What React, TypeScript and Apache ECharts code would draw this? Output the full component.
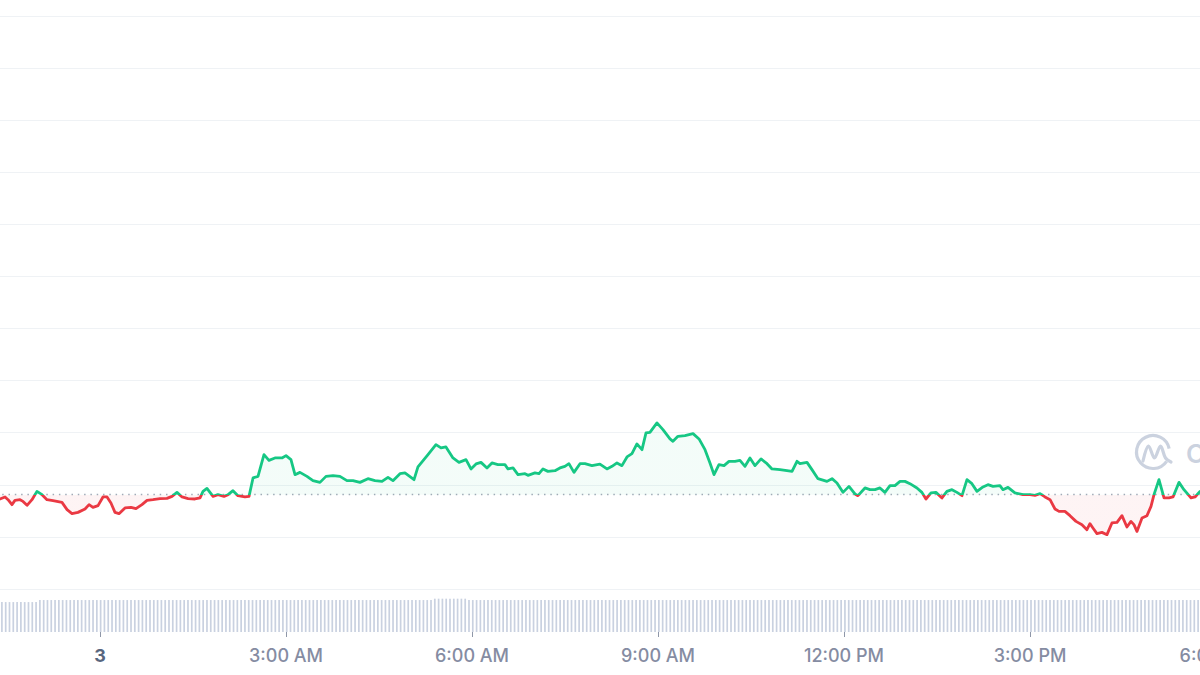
import React, { useEffect, useRef } from "react";
import * as echarts from "echarts";

// Reference (opening) price shown as the dotted baseline
const baselinePrice = 11.811;

// Minutes relative to midnight of day 3
const times = [
  -96.8, -91.9, -89.0, -85.2, -82.3, -77.4, -74.5, -70.6, -65.8, -61.0,
  -56.1, -51.3, -45.5, -36.8, -31.9, -27.1, -21.3, -14.5, -10.6, -6.8,
  -1.9, 2.9, 6.8, 10.6, 14.5, 18.4, 24.2, 30.0, 34.8, 40.6,
  45.5, 51.3, 58.1, 64.8, 69.7, 74.5, 79.4, 85.2, 91.9, 96.8,
  99.7, 103.5, 109.4, 114.2, 120.0, 123.9, 128.7, 133.5, 140.3, 144.2,
  148.1, 152.9, 158.7, 163.5, 169.3, 176.1, 180.0, 184.8, 188.7, 193.5,
  200.3, 206.1, 212.9, 218.7, 225.5, 232.2, 239.0, 244.8, 251.6, 259.3,
  266.1, 272.9, 278.7, 283.5, 290.3, 295.1, 303.9, 307.7, 317.4, 325.1,
  330.0, 334.8, 341.6, 347.4, 354.2, 359.0, 363.9, 368.7, 374.5, 379.3,
  385.1, 391.9, 394.8, 399.7, 404.5, 411.3, 414.2, 420.9, 424.8, 428.7,
  433.5, 440.3, 445.1, 449.9, 453.8, 458.7, 464.5, 469.3, 476.1, 483.8,
  490.6, 495.5, 500.3, 505.1, 510.0, 514.8, 519.6, 524.5, 528.4, 532.2,
  539.0, 544.8, 551.6, 554.5, 559.3, 566.1, 573.9, 579.7, 585.5, 590.3,
  594.2, 599.0, 603.9, 608.7, 614.5, 619.3, 624.2, 629.0, 633.9, 639.7,
  645.5, 650.3, 658.0, 664.8, 669.7, 674.5, 677.4, 684.2, 689.0, 694.8,
  703.5, 708.4, 713.2, 719.0, 724.8, 730.6, 733.5, 740.3, 745.1, 750.0,
  754.8, 759.6, 764.5, 769.3, 774.2, 779.0, 783.8, 790.6, 795.4, 799.3,
  804.2, 809.0, 814.8, 819.6, 824.5, 829.3, 834.2, 839.0, 843.8, 848.7,
  854.5, 859.3, 864.2, 870.9, 873.8, 878.7, 885.4, 893.2, 900.0, 904.8,
  909.7, 914.5, 919.4, 924.2, 928.1, 933.8, 938.7, 944.5, 950.3, 955.1,
  958.0, 960.9, 964.8, 969.6, 974.5, 979.3, 984.2, 989.0, 993.8, 997.7,
  1000.6, 1003.5, 1008.4, 1013.2, 1017.1, 1020.0, 1024.8, 1029.7, 1034.5, 1038.4,
  1044.2, 1049.0, 1055.8, 1059.7, 1064.5,
];

const prices = [
  11.728, 11.767, 11.715, 11.619, 11.702, 11.715, 11.682, 11.606, 11.715, 11.874,
  11.811, 11.715, 11.696, 11.663, 11.523, 11.446, 11.471, 11.536, 11.619, 11.567,
  11.6, 11.767, 11.767, 11.652, 11.471, 11.446, 11.556, 11.567, 11.542, 11.619,
  11.702, 11.715, 11.734, 11.74, 11.778, 11.855, 11.767, 11.734, 11.728, 11.748,
  11.874, 11.932, 11.778, 11.811, 11.778, 11.811, 11.888, 11.792, 11.767, 11.778,
  12.132, 12.162, 12.579, 12.47, 12.516, 12.516, 12.56, 12.483, 12.195, 12.239,
  12.162, 12.08, 12.047, 12.162, 12.176, 12.162, 12.08, 12.08, 12.047, 12.118,
  12.08, 12.066, 12.143, 12.08, 12.214, 12.228, 12.099, 12.343, 12.579, 12.771,
  12.708, 12.727, 12.516, 12.431, 12.483, 12.305, 12.401, 12.431, 12.324, 12.42,
  12.387, 12.387, 12.305, 12.324, 12.195, 12.214, 12.182, 12.228, 12.214, 12.305,
  12.258, 12.272, 12.324, 12.355, 12.406, 12.239, 12.406, 12.406, 12.368, 12.397,
  12.305, 12.355, 12.42, 12.368, 12.535, 12.598, 12.785, 12.675, 12.996, 13.007,
  13.188, 13.059, 12.881, 12.835, 12.931, 12.944, 12.983, 12.881, 12.675, 12.42,
  12.195, 12.387, 12.368, 12.451, 12.451, 12.47, 12.355, 12.516, 12.368, 12.497,
  12.406, 12.305, 12.291, 12.272, 12.258, 12.451, 12.406, 12.431, 12.291, 12.118,
  12.066, 12.118, 12.036, 11.855, 11.97, 11.824, 11.792, 11.94, 11.907, 11.907,
  11.94, 11.855, 11.984, 11.984, 12.066, 12.066, 12.022, 11.94, 11.855, 11.728,
  11.844, 11.855, 11.748, 11.874, 11.907, 11.855, 11.792, 12.099, 12.022, 11.874,
  11.959, 12.003, 11.97, 11.984, 11.907, 11.951, 11.844, 11.811, 11.811, 11.798,
  11.83, 11.767, 11.715, 11.536, 11.49, 11.49, 11.408, 11.298, 11.235, 11.139,
  11.254, 11.172, 11.062, 11.087, 11.043, 11.268, 11.279, 11.408, 11.191, 11.298,
  11.235, 11.106, 11.364, 11.408, 11.586, 11.811, 12.099, 11.748, 11.748, 11.767,
  12.047, 11.907, 11.748, 11.767, 11.874,
];

// Volume bars (relative heights)
const volumes = [
  88, 88, 88, 88, 88, 88, 88, 88, 88, 88, 94, 94, 94, 94, 94, 94, 94, 94, 94, 94,
  94, 94, 94, 94, 94, 94, 94, 94, 94, 94, 94, 94, 94, 94, 94, 94, 94, 94, 94, 94,
  94, 94, 94, 94, 94, 94, 94, 94, 94, 94, 94, 94, 94, 94, 94, 94, 94, 94, 94, 94,
  94, 94, 94, 94, 94, 94, 94, 94, 94, 94, 94, 94, 94, 94, 94, 94, 94, 94, 94, 94,
  94, 94, 94, 94, 94, 94, 94, 94, 94, 94, 94, 94, 94, 94, 94, 94, 94, 94, 94, 94,
  94, 94, 94, 94, 94, 94, 94, 94, 94, 94, 94, 94, 94, 94, 98, 98, 98, 98, 98, 98,
  98, 98, 98, 94, 94, 94, 94, 94, 94, 94, 94, 94, 94, 94, 94, 94, 94, 94, 94, 94,
  94, 94, 94, 94, 94, 94, 94, 94, 94, 94, 94, 94, 94, 94, 94, 94, 94, 94, 94, 94,
  94, 94, 94, 94, 94, 94, 94, 94, 94, 94, 94, 94, 94, 94, 94, 94, 94, 94, 94, 94,
  94, 94, 94, 94, 94, 94, 94, 94, 94, 94, 94, 94, 94, 94, 94, 94, 94, 94, 94, 94,
  94, 94, 94, 94, 94, 94, 94, 94, 94, 94, 94, 94, 94, 94, 94, 94, 94, 94, 94, 94,
  94, 94, 94, 94, 94, 94, 94, 94, 94, 94, 94, 94, 94, 94, 94, 94, 94, 94, 94, 94,
  94, 94, 94, 94, 94, 94, 94, 94, 94, 94, 94, 94, 94, 94, 94, 94, 94, 94, 94, 94,
  94, 94, 94, 94, 94, 94, 94, 94, 94, 94, 94, 94, 94, 94, 94, 94, 94, 94, 94, 94,
  94, 94, 94, 94, 94, 94, 94, 94, 94, 94, 94, 94, 94, 94, 94, 94, 94, 94, 94, 94,
  94, 94, 94, 94, 94, 94, 94, 94, 94, 94, 94, 94, 94, 94, 94, 94,
];

// Axis ticks every 3 hours (minutes from midnight) and their labels
// (the first and last ticks lie outside the visible window and carry no label)
const tickMinutes = [-180, 0, 180, 360, 540, 720, 900, 1080, 1260];
const tickLabels = ["", "3", "3:00 AM", "6:00 AM", "9:00 AM", "12:00 PM", "3:00 PM", "6:00 PM", ""];

const GREEN = "#16c784";
const RED = "#ea3943";
const MARK = "#cbd2df";
const Y_MIN = 10;
const Y_MAX = 21;

// The chart canvas starts 86px left of the visible page (minute -180 at its left edge)
const SHIFT = 86;
const CHART_W = 1488;

export default function App() {
  const ref = useRef<HTMLDivElement>(null);

  useEffect(() => {
    if (!ref.current) return;
    const chart = echarts.init(ref.current, undefined, { renderer: "svg" });

    const priceData = times.map((t, i) => [t, prices[i]]);
    const volCats = volumes.map((_, i) => String(i));

    chart.setOption({
      animation: false,
      backgroundColor: "#ffffff",
      textStyle: { fontFamily: "Inter, 'Noto Sans', sans-serif" },
      grid: [
        { left: 0, right: 0, top: 16, bottom: 86, containLabel: false, outerBoundsMode: "none" },
        { left: SHIFT, width: 1200, top: 598, height: 34, containLabel: false, outerBoundsMode: "none" },
      ],
      xAxis: [
        {
          type: "value",
          gridIndex: 0,
          min: -180,
          max: 1260,
          interval: 180,
          offset: 43,
          axisLine: { show: false },
          splitLine: { show: false },
          axisTick: {
            show: true,
            length: 5,
            lineStyle: { color: "#8f97a8", width: 1 },
          },
          axisLabel: {
            show: true,
            margin: 14,
            fontSize: 18,
            color: "#858ca2",
            fontFamily: "Inter, sans-serif",
            fontWeight: 500,
            formatter: (v: number) => {
              const idx = tickMinutes.indexOf(Math.round(v));
              if (idx < 0 || !tickLabels[idx]) return "";
              if (tickMinutes[idx] === 0) return "{day|" + tickLabels[idx] + "}";
              return tickLabels[idx];
            },
            rich: {
              day: {
                fontSize: 18,
                fontWeight: 700,
                color: "#58667e",
                fontFamily: "Inter, sans-serif",
              },
            },
          },
        },
        {
          type: "category",
          gridIndex: 1,
          data: volCats,
          show: false,
          boundaryGap: true,
        },
      ],
      yAxis: [
        {
          type: "value",
          gridIndex: 0,
          min: Y_MIN,
          max: Y_MAX,
          interval: 1,
          axisLabel: { show: false },
          axisLine: { show: false },
          axisTick: { show: false },
          splitLine: { show: true, lineStyle: { color: "#eff2f5", width: 1 } },
        },
        {
          type: "value",
          gridIndex: 1,
          min: 0,
          max: 100,
          show: false,
          splitLine: { show: false },
        },
      ],
      series: [
        {
          id: "price",
          type: "line",
          xAxisIndex: 0,
          yAxisIndex: 0,
          data: priceData,
          showSymbol: false,
          symbol: "none",
          lineStyle: { width: 2.8, color: GREEN, join: "round", cap: "round" },
          areaStyle: { origin: baselinePrice, color: "rgba(22,199,132,0.07)" },
          z: 3,
          markLine: {
            silent: true,
            symbol: "none",
            label: { show: false },
            lineStyle: { color: "#a3aab8", width: 1.3, type: [1.5, 4.8] },
            data: [{ yAxis: baselinePrice }],
            z: 2,
          },
        },
        {
          type: "bar",
          xAxisIndex: 1,
          yAxisIndex: 1,
          data: volumes,
          barWidth: 1.7,
          itemStyle: { color: "#c9d1e0" },
          silent: true,
        },
      ],
      graphic: [
        {
          type: "arc",
          shape: { cx: 1153 + SHIFT, cy: 452, r: 16.5, startAngle: 0.6, endAngle: 6.08, clockwise: true },
          style: { stroke: MARK, lineWidth: 3.2, fill: "none" },
          silent: true,
        },
        {
          type: "polyline",
          shape: {
            points: [
              [1143 + SHIFT, 461],
              [1148.5 + SHIFT, 446],
              [1154.5 + SHIFT, 458],
              [1160.5 + SHIFT, 446],
              [1165.5 + SHIFT, 458],
              [1171 + SHIFT, 462],
            ],
            smooth: 0.35,
          },
          style: { stroke: MARK, lineWidth: 3.2, fill: "none", lineJoin: "round", lineCap: "round" },
          silent: true,
        },
        {
          type: "text",
          x: 1186 + SHIFT,
          y: 453,
          silent: true,
          style: {
            text: "CoinMarketCap",
            fill: MARK,
            fontSize: 26,
            fontWeight: 600,
            fontFamily: "Inter, sans-serif",
            verticalAlign: "middle",
            align: "left",
          },
        },
      ],
    });

    // Split colours at the baseline using the chart's own y scale
    const yTop = chart.convertToPixel({ yAxisIndex: 0 }, Y_MAX) as number;
    const yBot = chart.convertToPixel({ yAxisIndex: 0 }, Y_MIN) as number;
    const yBase = chart.convertToPixel({ yAxisIndex: 0 }, baselinePrice) as number;
    const f = (yBase - yTop) / (yBot - yTop);
    const lineGrad = new echarts.graphic.LinearGradient(
      0, yTop, 0, yBot,
      [
        { offset: 0, color: GREEN },
        { offset: f, color: GREEN },
        { offset: f, color: RED },
        { offset: 1, color: RED },
      ],
      true
    );
    const areaGrad = new echarts.graphic.LinearGradient(
      0, yTop, 0, yBot,
      [
        { offset: 0, color: "rgba(22,199,132,0.07)" },
        { offset: f, color: "rgba(22,199,132,0.07)" },
        { offset: f, color: "rgba(234,57,67,0.08)" },
        { offset: 1, color: "rgba(234,57,67,0.08)" },
      ],
      true
    );
    chart.setOption({
      series: [
        {
          id: "price",
          lineStyle: { color: lineGrad },
          areaStyle: { color: areaGrad },
        },
      ],
    });

    return () => chart.dispose();
  }, []);

  return (
    <div
      style={{
        position: "fixed",
        left: 0,
        top: 0,
        width: 1200,
        height: 675,
        overflow: "hidden",
        background: "#ffffff",
      }}
    >
      <div
        ref={ref}
        style={{ position: "absolute", left: -SHIFT, top: 0, width: CHART_W, height: 675 }}
      />
    </div>
  );
}
